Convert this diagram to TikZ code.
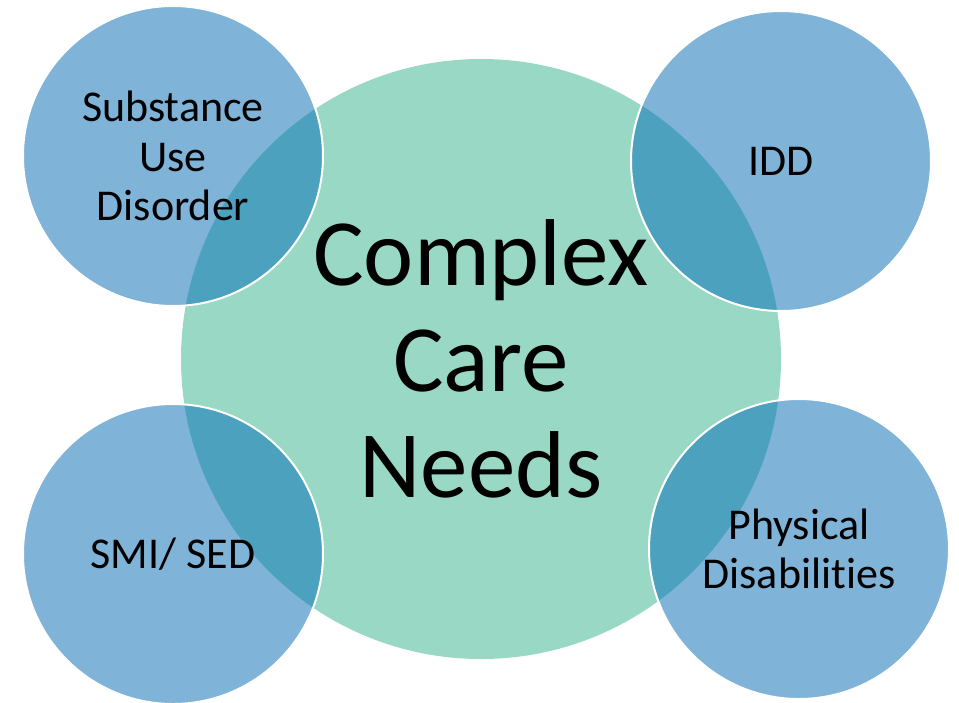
\documentclass[tikz,border=0pt]{standalone}
\usepackage{fontspec}
\setmainfont[Ligatures = NoCommon]{Carlito}
\usetikzlibrary{positioning, backgrounds}

\definecolor{careGreen}{RGB}{152,216,196}
\definecolor{needBlue}{RGB}{127,179,216}
\definecolor{overlapTeal}{RGB}{75,161,190}

\begin{document}
\begin{tikzpicture}[on grid, node distance = 300pt,
  need/.style = {circle, draw = white, line width = 2pt, minimum size = 300pt, inner sep = 0pt,
                 align = center, font = \fontsize{44}{49.5}\selectfont},
  hub/.style = {circle, minimum size = 600pt, inner sep = 0pt,
                align = center, font = \fontsize{95}{106}\selectfont}]
  \useasboundingbox (0,0) rectangle (959pt,-702pt);
  \node[hub] (care) at (481pt,-359pt) {Complex\\Care\\Needs};
  \node[need] (sud) [above left=203pt and 308pt of care] {Substance\\Use\\Disorder};
  \node[need] (idd) [above right=198pt and 300pt of care] {IDD};
  \node[need] (smi) [below left=195pt and 308pt of care] {SMI/ SED};
  \node[need] (phys) [below right=190pt and 318pt of care] {Physical\\Disabilities};
  \begin{scope}[on background layer]
    \fill[careGreen] (care.center) circle (300pt);
    \foreach \n in {sud, idd, smi, phys}
      \fill[needBlue] (\n.center) circle (150pt);
    \clip (care.center) circle (300pt);
    \foreach \n in {sud, idd, smi, phys}
      \fill[overlapTeal] (\n.center) circle (150pt);
  \end{scope}
\end{tikzpicture}
\end{document}
